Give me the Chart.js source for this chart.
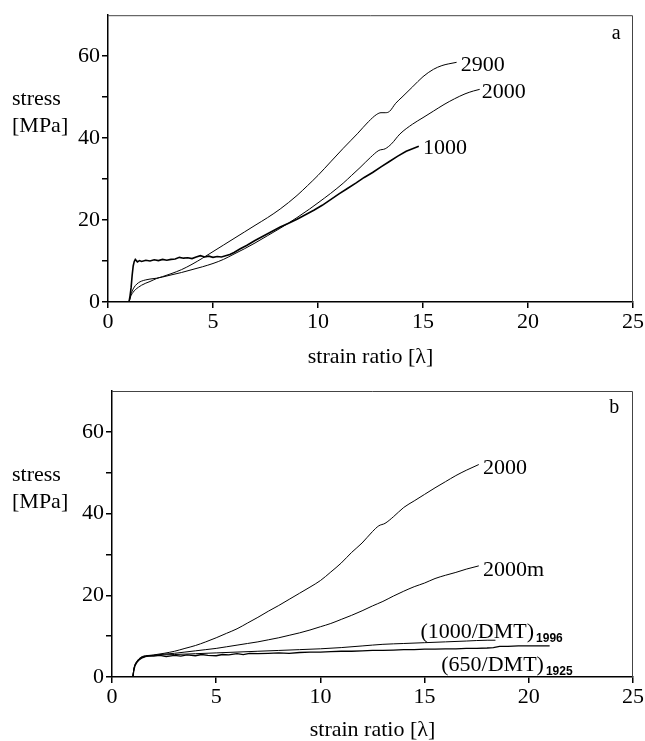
<!DOCTYPE html>
<html>
<head>
<meta charset="utf-8">
<script src="https://cdn.jsdelivr.net/npm/chart.js@4.4.0/dist/chart.umd.min.js"></script>
<style>
  html, body { margin: 0; padding: 0; background: #ffffff; }
  body { width: 645px; height: 741px; position: relative; overflow: hidden; }
  canvas { position: absolute; left: 0; }
  #cA { top: 0; }
  #cB { top: 370px; }
</style>
</head>
<body>
<canvas id="cA" width="645" height="370" style="width:645px;height:370px"></canvas>
<canvas id="cB" width="645" height="371" style="width:645px;height:371px"></canvas>
<script>
// ---------------- DATA ----------------
const xTickValues = [0, 5, 10, 15, 20, 25];
const yTickValues = [0, 10, 20, 30, 40, 50, 60];
const yTickLabels = ['0', '', '20', '', '40', '', '60'];
const xTitle = 'strain ratio [\u03BB]';
const yTitle = ['stress', '[MPa]'];

// Panel a
const lamA2900 = [1.0,1.05,1.1,1.2,1.3,1.45,1.6,1.8,2.0,2.3,2.6,3.0,3.5,4.0,4.5,5.0,5.5,6.0,6.5,7.0,7.6,8.2,9.0,9.5,10.0,10.6,11.2,11.9,12.4,12.8,13.0,13.2,13.4,13.7,14.0,14.5,15.0,15.5,15.9,16.2,16.6];
const sA2900   = [0,0.9,1.6,2.4,3.0,3.6,4.1,4.6,5.0,5.7,6.2,6.9,7.9,9.2,10.7,12.3,13.9,15.5,17.1,18.7,20.6,22.7,26.0,28.4,30.9,34.2,37.5,41.2,44.0,45.8,46.2,46.2,46.5,48.5,50.0,52.5,55.0,56.8,57.7,58.1,58.5];

const lamA2000 = [1.0,1.05,1.1,1.2,1.3,1.45,1.6,1.8,2.0,2.3,2.6,3.0,3.5,4.0,4.5,5.0,5.5,6.0,6.5,7.0,7.6,8.2,9.0,9.6,10.0,10.6,11.2,11.6,12.0,12.5,12.9,13.2,13.5,13.9,14.5,15.0,15.5,16.0,16.5,17.0,17.4,17.7];
const sA2000   = [0,1.0,2.0,3.2,4.0,4.7,5.1,5.4,5.6,5.8,6.1,6.6,7.2,7.9,8.6,9.4,10.4,11.7,13.0,14.4,16.2,18.0,20.6,22.7,24.2,26.5,29.0,30.9,32.8,35.3,37.0,37.4,38.6,41.0,43.4,45.0,46.6,48.2,49.6,50.8,51.5,51.9];

const lamA1000 = [1.0,1.05,1.1,1.15,1.2,1.25,1.3,1.4,1.5,1.6,1.8,2.0,2.2,2.4,2.6,2.8,3.0,3.2,3.4,3.6,3.8,4.0,4.2,4.4,4.6,4.8,5.0,5.2,5.4,5.6,5.8,6.0,6.3,6.6,7.0,7.4,7.8,8.2,8.6,9.0,9.4,9.8,10.2,10.6,11.0,11.4,11.8,12.2,12.6,13.0,13.4,13.8,14.2,14.5,14.8];
const sA1000   = [0,1.5,3.5,6.5,8.8,9.9,10.4,9.8,10.1,9.9,10.2,10.0,10.3,10.1,10.4,10.2,10.4,10.5,10.9,10.7,10.8,10.6,11.0,11.3,11.0,11.2,10.9,11.1,11.0,11.3,11.6,12.1,13.0,13.8,15.0,16.1,17.2,18.3,19.2,20.2,21.3,22.4,23.6,25.0,26.4,27.7,29.0,30.4,31.6,33.0,34.3,35.6,36.8,37.4,38.0];

// Panel b
const lamB2000 = [1.0,1.05,1.1,1.2,1.3,1.45,1.6,1.8,2.0,2.5,3.0,3.5,4.0,4.5,5.0,5.5,6.0,6.5,7.0,7.5,8.0,8.5,9.0,9.5,10.0,10.5,11.0,11.5,12.0,12.5,12.8,13.1,13.5,14.0,14.5,15.0,15.5,16.0,16.5,17.0,17.6];
const sB2000   = [0,2.0,3.0,3.9,4.5,5.0,5.2,5.3,5.4,5.8,6.3,7.0,7.7,8.6,9.6,10.7,11.8,13.2,14.6,16.1,17.5,19.0,20.5,22.0,23.6,25.7,27.9,30.5,32.8,35.6,37.0,37.6,39.2,41.5,43.1,44.7,46.3,47.8,49.3,50.6,52.0];

const lamB2000m = [1.0,1.05,1.1,1.2,1.3,1.45,1.6,1.8,2.0,2.5,3.0,3.5,4.0,4.5,5.0,5.5,6.0,6.5,7.0,7.5,8.0,8.5,9.0,9.5,10.0,10.5,11.0,11.5,12.0,12.5,13.0,13.5,14.0,14.5,15.0,15.5,16.0,16.5,17.0,17.6];
const sB2000m   = [0,1.9,2.9,3.8,4.4,4.9,5.1,5.2,5.3,5.6,5.8,6.1,6.4,6.7,7.0,7.4,7.8,8.2,8.6,9.1,9.6,10.2,10.8,11.5,12.3,13.1,14.1,15.1,16.2,17.4,18.5,19.8,21.0,22.1,23.0,24.1,24.9,25.6,26.4,27.2];

const lamB1000D = [1.0,1.05,1.1,1.2,1.3,1.45,1.6,1.8,2.0,3,4,5,6,7,8,9,10,11,12,13,14,15,16,17,18,18.4];
const sB1000D   = [0,1.8,2.8,3.7,4.3,4.8,5.0,5.2,5.3,5.5,5.7,5.9,6.1,6.3,6.5,6.7,6.9,7.2,7.6,8.0,8.2,8.4,8.6,8.8,9.0,9.0];

const lamB650D = [1.0,1.05,1.1,1.2,1.3,1.45,1.6,1.8,2.0,2.3,2.6,3.0,3.3,3.6,4.0,4.3,4.6,5.0,5.3,5.6,6.0,6.3,6.6,7.0,7.5,8.0,8.5,9.0,9.5,10,10.5,11,11.5,12,12.5,13,13.5,14,14.5,15,15.5,16,16.5,17,17.5,18,18.3,18.6,19,19.5,20,20.5,21];
const sB650D   = [0,1.7,2.7,3.6,4.2,4.7,5.0,5.2,5.1,5.3,5.0,5.3,5.1,5.4,5.2,5.5,5.3,5.2,5.5,5.4,5.7,5.5,5.8,5.7,5.8,5.9,5.8,6.0,6.1,6.1,6.2,6.3,6.3,6.4,6.5,6.5,6.6,6.7,6.7,6.8,6.8,6.9,6.9,7.0,7.0,7.1,7.2,7.5,7.5,7.6,7.6,7.6,7.6];

// Curve labels: [text, subscript, lambda, stress]
const labelsA = [['2900', '', 16.8, 57.9], ['2000', '', 17.8, 51.1], ['1000', '', 15.0, 37.5]];
const labelsB = [['2000', '', 17.8, 51.2], ['2000m', '', 17.8, 26.2], ['(1000/DMT)', '1996', 14.8, 11.0], ['(650/DMT)', '1925', 15.8, 2.9]];
const panelA = ['a', 24.2, 65.4];
const panelB = ['b', 24.1, 65.9];

// ---------------- CHART ----------------
const SERIF = '"Liberation Serif", "Times New Roman", serif';
function pts(xs, ys) { return xs.map((x, i) => ({ x: x, y: ys[i] })); }
function ds(xs, ys, smooth, w) {
  return {
    data: pts(xs, ys), borderColor: '#000', borderWidth: w || 1, pointRadius: 0,
    fill: false, tension: smooth ? 0.4 : 0, cubicInterpolationMode: smooth ? 'monotone' : 'default'
  };
}

function makeChart(id, datasets, labels, panel, geom) {
  const textPlugin = {
    id: 'texts',
    afterDraw(chart) {
      const c = chart.ctx, a = chart.chartArea, xs = chart.scales.x, ys = chart.scales.y;
      c.save();
      // frame top & right
      c.strokeStyle = '#444'; c.lineWidth = 1;
      c.beginPath();
      c.moveTo(a.left, a.top + 0.5); c.lineTo(a.right - 0.5, a.top + 0.5); c.lineTo(a.right - 0.5, a.bottom);
      c.stroke();
      c.fillStyle = '#000';
      c.textBaseline = 'middle';
      // curve labels
      labels.forEach(l => {
        const px = xs.getPixelForValue(l[2]), py = ys.getPixelForValue(l[3]);
        c.font = '22px ' + SERIF; c.textAlign = 'left';
        c.fillText(l[0], px, py);
        if (l[1]) {
          const w = c.measureText(l[0]).width;
          c.font = 'bold 12px "Liberation Sans", Arial, sans-serif';
          c.fillText(l[1], px + w + 2, py + 7);
        }
      });
      // panel letter
      c.font = '20px ' + SERIF; c.textAlign = 'center';
      c.fillText(panel[0], xs.getPixelForValue(panel[1]), ys.getPixelForValue(panel[2]));
      // y title
      c.font = '22px ' + SERIF; c.textAlign = 'left';
      c.fillText(yTitle[0], 12, a.top + 84);
      c.fillText(yTitle[1], 12, a.top + 111);
      // x title
      c.textAlign = 'center';
      c.fillText(xTitle, (a.left + a.right) / 2, a.bottom + geom.xt);
      c.restore();
    }
  };
  return new Chart(document.getElementById(id), {
    type: 'line',
    data: { datasets: datasets },
    plugins: [textPlugin],
    options: {
      responsive: false, animation: false, devicePixelRatio: 1,
      layout: { padding: { left: 0, right: geom.right, top: geom.top, bottom: 0 } },
      plugins: { legend: { display: false }, tooltip: { enabled: false } },
      scales: {
        x: {
          type: 'linear', min: 0, max: 25,
          afterBuildTicks: s => { s.ticks = xTickValues.map(v => ({ value: v })); },
          afterFit: s => { s.height = geom.xh; },
          grid: { display: true, drawOnChartArea: false, drawTicks: true, tickLength: 6, color: '#000', lineWidth: 1.5 },
          border: { display: true, color: '#000', width: 1.5 },
          ticks: { color: '#000', font: { family: SERIF, size: 22 }, padding: 1, maxRotation: 0 }
        },
        y: {
          type: 'linear', min: 0, max: 70,
          afterBuildTicks: s => { s.ticks = yTickValues.map(v => ({ value: v })); },
          afterFit: s => { s.width = geom.yw; },
          grid: { display: true, drawOnChartArea: false, drawTicks: true, tickLength: 6, color: '#000', lineWidth: 1.5 },
          border: { display: true, color: '#000', width: 1.5 },
          ticks: {
            color: '#000', font: { family: SERIF, size: 22 }, padding: 2,
            callback: (v) => { const i = yTickValues.indexOf(v); return i >= 0 ? yTickLabels[i] : ''; }
          }
        }
      }
    }
  });
}

makeChart('cA', [
  ds(lamA2900, sA2900, true, 1),
  ds(lamA2000, sA2000, true, 1),
  ds(lamA1000, sA1000, false, 1.6)
], labelsA, panelA, { top: 13, right: 11, xh: 68, yw: 108, xt: 55 });

makeChart('cB', [
  ds(lamB2000, sB2000, true, 1),
  ds(lamB2000m, sB2000m, true, 1),
  ds(lamB1000D, sB1000D, true, 1),
  ds(lamB650D, sB650D, false, 1.3)
], labelsB, panelB, { top: 21, right: 9, xh: 64, yw: 112, xt: 53 });
</script>
</body>
</html>
